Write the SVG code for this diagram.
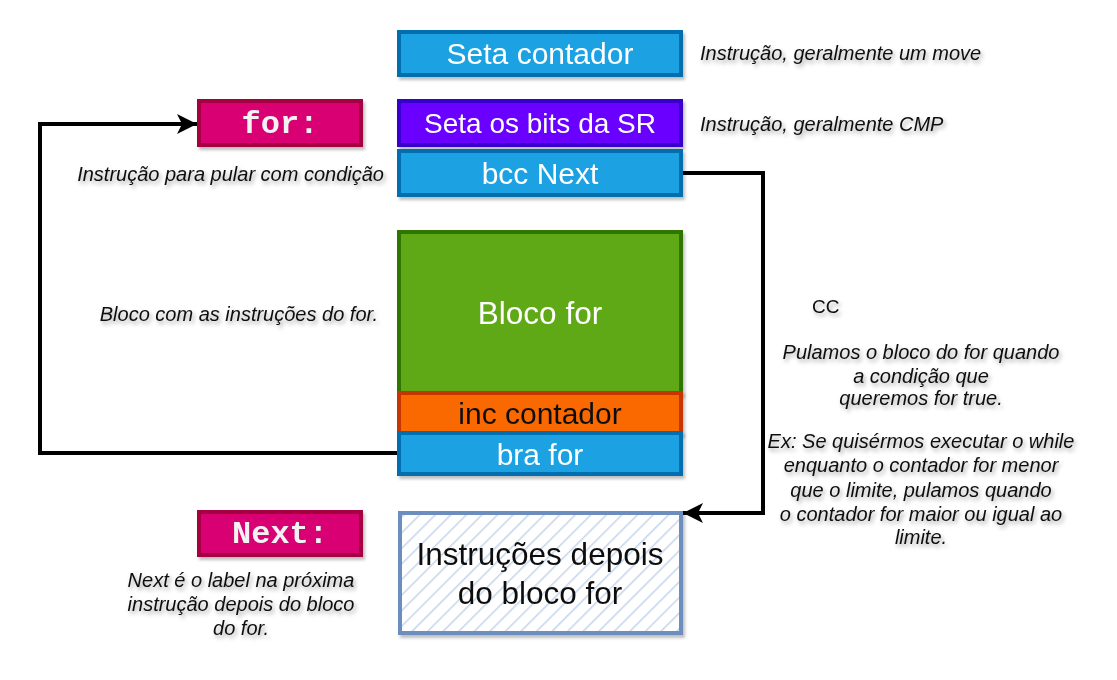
<svg xmlns="http://www.w3.org/2000/svg" width="1117" height="680" viewBox="0 0 1117 680">
<defs>
<filter id="sh" x="-10%" y="-10%" width="130%" height="140%">
<feDropShadow dx="2" dy="3" stdDeviation="1.5" flood-color="#000" flood-opacity="0.25"/>
</filter>
<filter id="tsh" x="-10%" y="-30%" width="130%" height="180%">
<feDropShadow dx="2" dy="3" stdDeviation="2" flood-color="#000" flood-opacity="0.35"/>
</filter>
<pattern id="hatch" width="11" height="11" patternUnits="userSpaceOnUse" patternTransform="rotate(45)">
<rect width="11" height="11" fill="#ffffff"/>
<line x1="0" y1="0" x2="0" y2="11" stroke="#c5d5ea" stroke-width="3"/>
</pattern>
<marker id="arr" markerWidth="22" markerHeight="20" refX="10" refY="5" orient="auto" markerUnits="userSpaceOnUse" viewBox="0 0 10 10">
<path d="M0,0 L10,5 L0,10 L2.5,5 Z" fill="#000"/>
</marker>
</defs>
<style>
.blue{fill:#1BA1E2;stroke:#006EAF;stroke-width:4}
.purple{fill:#6A00FF;stroke:#3700CC;stroke-width:4}
.green{fill:#60A917;stroke:#2D7600;stroke-width:4}
.orange{fill:#FA6800;stroke:#C73500;stroke-width:4}
.pink{fill:#D80073;stroke:#A50040;stroke-width:4}
.hatch{fill:url(#hatch);stroke:#6C8EBF;stroke-width:4}
.lbl{font-family:"Liberation Sans",Arial,sans-serif;font-size:30px;fill:#fff;text-anchor:middle}
.dark{fill:#111}
.code{font-family:"Liberation Mono","Courier New",monospace;font-weight:bold;font-size:32px;fill:#f2f2f2;text-anchor:middle}
.note{font-family:"Liberation Sans",Arial,sans-serif;font-style:italic;font-size:20px;fill:#111}
.conn{fill:none;stroke:#000;stroke-width:4}
</style>
<g id="connectors">
<path class="conn" d="M399,453 L40,453 L40,124 L197,124" marker-end="url(#arr)"/>
<path class="conn" d="M681,173 L763,173 L763,513 L683,513" marker-end="url(#arr)"/>
</g>
<g id="seta-contador" filter="url(#sh)">
<rect class="blue" x="399" y="32" width="282" height="43"/>
<text class="lbl" x="540" y="64">Seta contador</text>
</g>
<g id="seta-bits" filter="url(#sh)">
<rect class="purple" x="399" y="101" width="282" height="44"/>
<text class="lbl" x="540" y="133" style="font-size:28px">Seta os bits da SR</text>
</g>
<g id="bcc-next" filter="url(#sh)">
<rect class="blue" x="399" y="151" width="282" height="44"/>
<text class="lbl" x="540" y="184">bcc Next</text>
</g>
<g id="bloco-for" filter="url(#sh)">
<rect class="green" x="399" y="232" width="282" height="161"/>
<text class="lbl" x="540" y="324" style="font-size:31.5px">Bloco for</text>
</g>
<g id="inc-contador" filter="url(#sh)">
<rect class="orange" x="399" y="393" width="282" height="40"/>
<text class="lbl dark" x="540" y="424">inc contador</text>
</g>
<g id="bra-for" filter="url(#sh)">
<rect class="blue" x="399" y="433" width="282" height="41"/>
<text class="lbl" x="540" y="465">bra for</text>
</g>
<g id="depois" filter="url(#sh)">
<rect class="hatch" x="400" y="513" width="281" height="120"/>
<text class="lbl dark" x="540" y="565" style="font-size:31.5px">Instruções depois</text>
<text class="lbl dark" x="540" y="604" style="font-size:31.5px">do bloco for</text>
</g>
<g id="for-label" filter="url(#sh)">
<rect class="pink" x="199" y="101" width="162" height="44"/>
<text class="code" x="280" y="133">for:</text>
</g>
<g id="next-label" filter="url(#sh)">
<rect class="pink" x="199" y="512" width="162" height="43"/>
<text class="code" x="280" y="543">Next:</text>
</g>
<g id="notes" filter="url(#tsh)">
<text class="note" x="700" y="60">Instrução, geralmente um move</text>
<text class="note" x="700" y="131">Instrução, geralmente CMP</text>
<text class="note" x="384" y="181" text-anchor="end">Instrução para pular com condição</text>
<text class="note" x="378" y="321" text-anchor="end">Bloco com as instruções do for.</text>
<text x="812" y="313" font-family="Liberation Sans,Arial,sans-serif" font-size="19" fill="#111">CC</text>
<g class="note" text-anchor="middle">
<text x="921" y="359">Pulamos o bloco do for quando</text>
<text x="921" y="383">a condição que</text>
<text x="921" y="405">queremos for true.</text>
<text x="921" y="448">Ex: Se quisérmos executar o while</text>
<text x="921" y="472">enquanto o contador for menor</text>
<text x="921" y="497">que o limite, pulamos quando</text>
<text x="921" y="521">o contador for maior ou igual ao</text>
<text x="921" y="544">limite.</text>
<text x="241" y="587">Next é o label na próxima</text>
<text x="241" y="611">instrução depois do bloco</text>
<text x="241" y="635">do for.</text>
</g>
</g>
</svg>
